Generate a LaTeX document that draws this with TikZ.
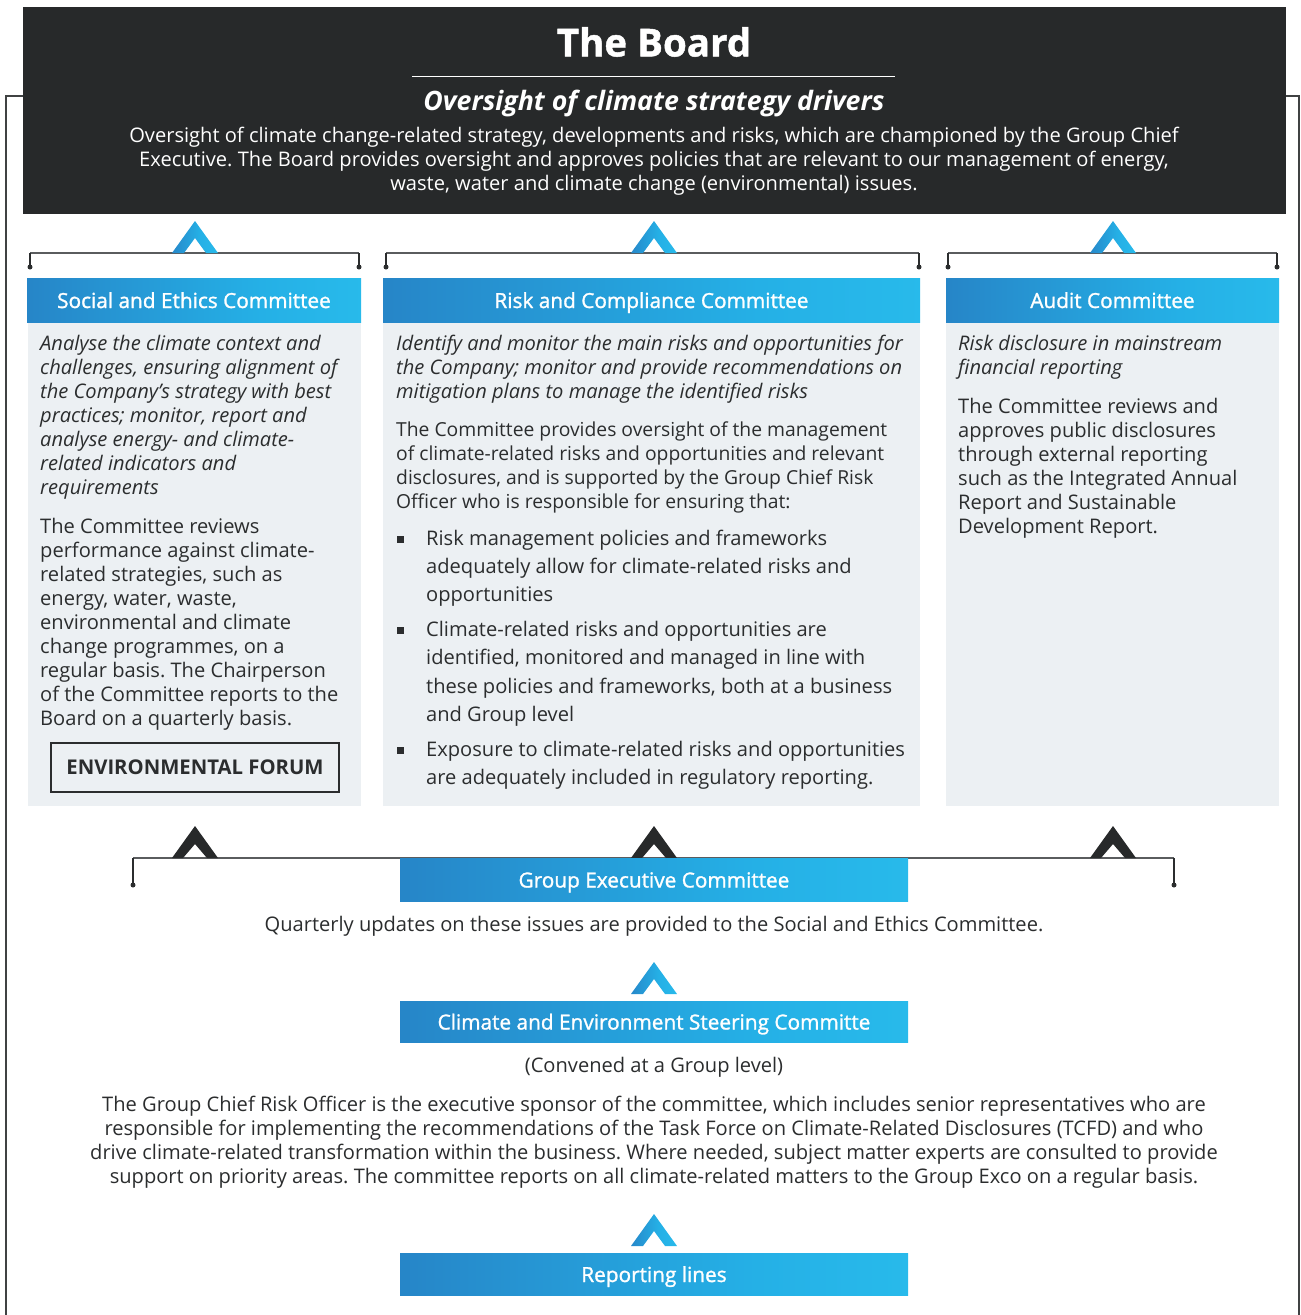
\documentclass[tikz,border=0pt]{standalone}
\usepackage{fontspec}
\setmainfont{Open Sans}
\newfontfamily\semib[FakeBold=1.3]{Open Sans}
\newfontfamily\heavy[FakeBold=1.2]{Open Sans}
\usetikzlibrary{positioning}
\definecolor{boardbg}{HTML}{27292A}
\definecolor{inkdark}{HTML}{2B2D2E}
\definecolor{panelbg}{HTML}{ECF0F3}
\definecolor{blueA}{HTML}{2767B2}
\definecolor{blueB}{HTML}{25B0E6}
\definecolor{blueC}{HTML}{2BC5F0}
\definecolor{blueD}{HTML}{4ECBEE}
\definecolor{linegray}{HTML}{5A5C5E}
\pgfdeclarehorizontalshading{barshade}{100bp}{color(0bp)=(blueA); color(60bp)=(blueB); color(92bp)=(blueC); color(100bp)=(blueD)}
\pgfdeclarehorizontalshading{chevshade}{100bp}{color(0bp)=(blueA); color(55bp)=(blueB); color(100bp)=(blueC)}
\newcommand\bodysize{\fontsize{20.1}{24}\selectfont}
\frenchspacing
\tikzset{
  bar/.style={shade, shading=barshade, minimum width=508, minimum height=43, inner sep=0,
    text height=17.5, text depth=1.5,
    text=white, font=\semib\fontsize{20.8}{24}\selectfont},
  panel/.style={fill=panelbg, inner sep=0},
  txt/.style={inner sep=0, text=inkdark, align=left, anchor=north west, font=\bodysize},
  itxt/.style={txt, font=\bodysize\itshape},
  ctxt/.style={inner sep=0, text=inkdark, align=center, font=\bodysize},
  bracket/.style={draw=linegray, line width=1.6},
  drop/.style={draw=inkdark, line width=1.6},
  dotend/.style={circle, fill=inkdark, inner sep=0, minimum size=5},
  sq/.style={fill=inkdark, inner sep=0, minimum size=7},
  frame/.style={draw=inkdark!90, line width=2},
  chevblue/.pic={\shade[shading=chevshade] (-23,0) -- (0,-32) -- (23,0) -- (11,0) -- (0,-15) -- (-11,0) -- cycle;},
  chevdark/.pic={\fill[boardbg] (-23,0) -- (0,-32) -- (23,0) -- (12,0) -- (0,-14) -- (-12,0) -- cycle;},
}
\begin{document}
\begin{tikzpicture}[x=1pt,y=-1pt]
\useasboundingbox (0,0) rectangle (1301,1315);

% outer frame lines
\draw[frame] (23,96) -- (6,96) -- (6,1315);
\draw[frame] (1286,96) -- (1299,96) -- (1299,1315);

% the Board
\node[fill=boardbg, minimum width=1263, minimum height=207, inner sep=0] (board) at (654.5,110.5) {};
\node[text=white, font=\heavy\bfseries\fontsize{38.5}{40}\selectfont, inner sep=0] (boardtitle) at (654,42) {The Board};
\coordinate (rl) at (412,76);
\coordinate (rr) at (895,76);
\draw[white, line width=1] (rl) -- (rr);
\node[text=white, font=\bfseries\itshape\fontsize{26.7}{30}\selectfont, inner sep=0] (boardsub) at (654,103) {Oversight of climate strategy drivers};
\node[ctxt, text=white] (boardtxt) at (654,161) {Oversight of climate change-related strategy, developments and risks, which are championed by the Group Chief\\ Executive. The Board provides oversight and approves policies that are relevant to our management of energy,\\ waste, water and climate change (environmental) issues.};

% committee panels
\node[panel, minimum width=333, minimum height=484] (p1) at (194.5,564) {};
\node[panel, minimum width=537, minimum height=484] (p2) at (651.5,564) {};
\node[panel, minimum width=333, minimum height=484] (p3) at (1112.5,564) {};
\node[bar, minimum width=334, minimum height=44] (b1) at (194,300) {Social and Ethics Committee};
\node[bar, minimum width=537, minimum height=44] (b2) at (651.5,300) {Risk and Compliance Committee};
\node[bar, minimum width=333, minimum height=44] (b3) at (1112.5,300) {Audit Committee};

% brackets and chevrons up to the Board
\foreach \n/\l/\r/\c in {1/30/359/195, 2/386/919/654, 3/948/1277/1113} {
  \coordinate (bl\n) at (\l,267);
  \coordinate (br\n) at (\r,267);
  \draw[bracket] (bl\n |- 0,253) -- (br\n |- 0,253);
  \draw[drop] (bl\n |- 0,253) -- (bl\n);
  \draw[drop] (br\n |- 0,253) -- (br\n);
  \node[dotend] at (bl\n) {};
  \node[dotend] at (br\n) {};
  \pic at (\c,253) {chevblue};
}

% Social and Ethics Committee text
\node[itxt] (t1a) at (40,335) {Analyse the climate context and\\ challenges, ensuring alignment of\\ the Company’s strategy with best\\ practices; monitor, report and\\ analyse energy- and climate-\\ related indicators and\\ requirements};
\node[txt] (t1b) at (40,518) {The Committee reviews\\ performance against climate-\\ related strategies, such as\\ energy, water, waste,\\ environmental and climate\\ change programmes, on a\\ regular basis. The Chairperson\\ of the Committee reports to the\\ Board on a quarterly basis.};
\node[draw=inkdark, line width=2.2, minimum width=288, minimum height=49, inner sep=0, text=inkdark, font=\bfseries\fontsize{20.3}{24}\selectfont] (forum) at (195,767.5) {ENVIRONMENTAL FORUM};

% Risk and Compliance Committee text
\node[itxt] (t2a) at (396,335) {Identify and monitor the main risks and opportunities for\\ the Company; monitor and provide recommendations on\\ mitigation plans to manage the identified risks};
\node[txt, font=\fontsize{19.3}{24}\selectfont] (t2b) at (396,422) {The Committee provides oversight of the management\\ of climate-related risks and opportunities and relevant\\ disclosures, and is supported by the Group Chief Risk\\ Officer who is responsible for ensuring that:};
\node[txt, font=\fontsize{20.1}{28}\selectfont] (bul1) at (426,530) {Risk management policies and frameworks\\ adequately allow for climate-related risks and\\ opportunities};
\node[txt, font=\fontsize{20.1}{28.5}\selectfont] (bul2) at (426,621) {Climate-related risks and opportunities are\\ identified, monitored and managed in line with\\ these policies and frameworks, both at a business\\ and Group level};
\node[txt, font=\fontsize{20.1}{28}\selectfont] (bul3) at (426,741) {Exposure to climate-related risks and opportunities\\ are adequately included in regulatory reporting.};
\node[sq] (sq1) at (400,539) {};
\node[sq] (sq2) at (400,630) {};
\node[sq] (sq3) at (400,750) {};

% Audit Committee text
\node[itxt] (t3a) at (958,335) {Risk disclosure in mainstream\\ financial reporting};
\node[txt] (t3b) at (958,398) {The Committee reviews and\\ approves public disclosures\\ through external reporting\\ such as the Integrated Annual\\ Report and Sustainable\\ Development Report.};

% Group Executive Committee and its bracket
\coordinate (gl) at (133,885);
\coordinate (gr) at (1174,885);
\draw[bracket] (gl |- 0,858) -- (gr |- 0,858);
\draw[drop] (gl |- 0,858) -- (gl);
\draw[drop] (gr |- 0,858) -- (gr);
\node[dotend] at (gl) {};
\node[dotend] at (gr) {};
\pic at (195,858) {chevdark};
\pic at (654,858) {chevdark};
\pic at (1113,858) {chevdark};
\node[bar] (gec) at (654,879.5) {Group Executive Committee};
\node[ctxt] (gectxt) at (654,926) {Quarterly updates on these issues are provided to the Social and Ethics Committee.};

% Climate and Environment Steering Committe
\pic at (654,994) {chevblue};
\node[bar, minimum height=41] (cesc) at (654,1021.5) {Climate and Environment Steering Committe};
\node[ctxt] (cesc1) at (654,1067) {(Convened at a Group level)};
\node[ctxt] (cesc2) at (654,1142) {The Group Chief Risk Officer is the executive sponsor of the committee, which includes senior representatives who are\\ responsible for implementing the recommendations of the Task Force on Climate-Related Disclosures (TCFD) and who\\ drive climate-related transformation within the business. Where needed, subject matter experts are consulted to provide\\ support on priority areas. The committee reports on all climate-related matters to the Group Exco on a regular basis.};

% legend
\pic at (654,1246) {chevblue};
\node[bar, minimum height=42] (legend) at (654,1274) {Reporting lines};
\end{tikzpicture}
\end{document}
